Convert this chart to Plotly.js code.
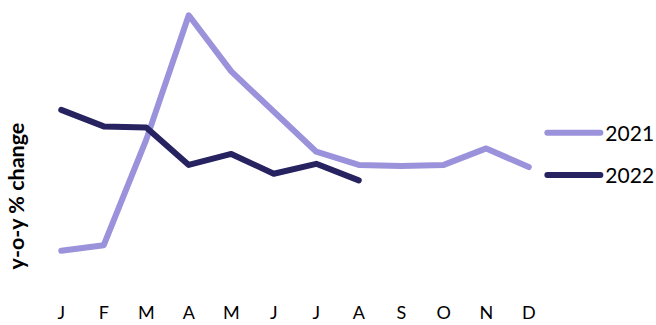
<!DOCTYPE html>
<html>
<head>
<meta charset="utf-8">
<script src="https://cdn.plot.ly/plotly-3.0.1.min.js"></script>
<style>
html,body{margin:0;padding:0;background:#fff;}
#chart{width:656px;height:325px;}
.js-line{stroke-linecap:round;stroke-linejoin:round;}
</style>
</head>
<body>
<div id="chart"></div>
<script>
const months = ["J","F","M","A","M","J","J","A","S","O","N","D"];
const monthIndex = [0,1,2,3,4,5,6,7,8,9,10,11];
const values2021 = [-7.7,-7.2,2.4,13.7,8.6,5.0,1.3,0.1,0.0,0.1,1.6,-0.1];
const values2022 = [5.1,3.6,3.5,0.1,1.1,-0.7,0.2,-1.3];
const seriesNames = ["2021","2022"];
const colors = ["#9a92da","#272260"];

const traces = [
  {x: monthIndex.slice(0, values2021.length), y: values2021, name: seriesNames[0], type: "scatter", mode: "lines",
   line: {color: colors[0], width: 6}, legendgroup: "a"},
  {x: monthIndex.slice(0, values2022.length), y: values2022, name: seriesNames[1], type: "scatter", mode: "lines",
   line: {color: colors[1], width: 6}, legendgroup: "b"}
];

const layout = {
  width: 656, height: 325,
  margin: {l: 40, r: 106, t: 10, b: 55, autoexpand: false},
  paper_bgcolor: "#fff", plot_bgcolor: "#fff",
  font: {family: "Lato, sans-serif", color: "#000"},
  xaxis: {range: [-0.5, 11.5], tickvals: monthIndex, ticktext: months, showgrid: false, zeroline: false,
          showline: false, ticks: "", ticklabelstandoff: 30, tickfont: {size: 18, color: "#000"}, fixedrange: true},
  yaxis: {range: [-9.45, 14.18], showgrid: false, zeroline: false, showline: false, showticklabels: false, ticks: "", fixedrange: true},
  showlegend: true,
  legend: {x: 0.985, xanchor: "left", y: 0.446, yanchor: "middle", traceorder: "grouped", tracegroupgap: 12,
           font: {size: 21, color: "#000"}, itemwidth: 53, bgcolor: "rgba(0,0,0,0)"},
  annotations: [{text: "<b>y-o-y % change</b>", textangle: -90, xref: "paper", yref: "paper",
                 x: -0.048, y: 0.285, xanchor: "center", yanchor: "middle", showarrow: false,
                 font: {size: 21.5, color: "#000", family: "Lato, sans-serif"}}]
};

Plotly.newPlot("chart", traces, layout, {displayModeBar: false, staticPlot: true});
</script>
</body>
</html>
